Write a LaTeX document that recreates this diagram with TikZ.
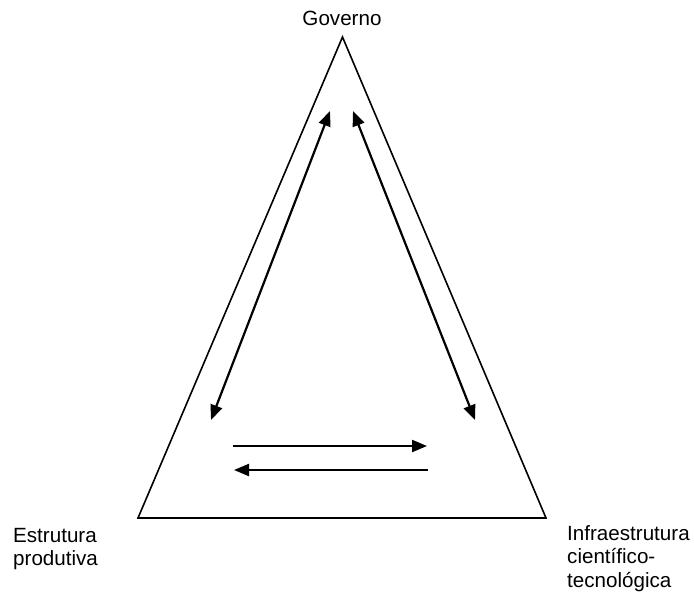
\documentclass[tikz,border=0pt]{standalone}
\usepackage{fontspec}
\setmainfont{Liberation Sans}
\usetikzlibrary{arrows.meta}
\begin{document}
\begin{tikzpicture}[x=1pt,y=-1pt,
  lbl/.style={inner sep=0pt,font=\fontsize{20.6}{23}\selectfont},
  arr/.style={line width=2.2pt,-{Triangle[length=15pt,width=12pt]}},
  dblarr/.style={line width=2.2pt,{Triangle[length=15pt,width=12pt]}-{Triangle[length=15pt,width=12pt]}}]
\useasboundingbox (0,0) rectangle (694,603);
% triangle
\coordinate (top) at (342.5,37);
\coordinate (bl) at (138,518);
\coordinate (br) at (546,518);
\draw[line width=1.6pt,line join=miter] (top) -- (bl) -- (br) -- cycle;
% arrow ends
\coordinate (la) at (211,420);
\coordinate (lb) at (330,111);
\coordinate (ra) at (353,111);
\coordinate (rb) at (475,420);
\coordinate (h1a) at (233,446);
\coordinate (h1b) at (427,446);
\coordinate (h2a) at (428,470);
\coordinate (h2b) at (234,470);
\draw[dblarr] (la) -- (lb);
\draw[dblarr] (ra) -- (rb);
\draw[arr] (h1a) -- (h1b);
\draw[arr] (h2a) -- (h2b);
% labels
\node[lbl,anchor=base] (gov) at (342,25) {Governo};
\node[lbl,anchor=base west] (est1) at (13,542) {Estrutura};
\node[lbl,anchor=base west] (est2) at (13,565) {produtiva};
\node[lbl,anchor=base west] (inf1) at (567,540) {Infraestrutura};
\node[lbl,anchor=base west] (inf2) at (567,563.5) {científico-};
\node[lbl,anchor=base west] (inf3) at (567,587) {tecnológica};
\end{tikzpicture}
\end{document}
